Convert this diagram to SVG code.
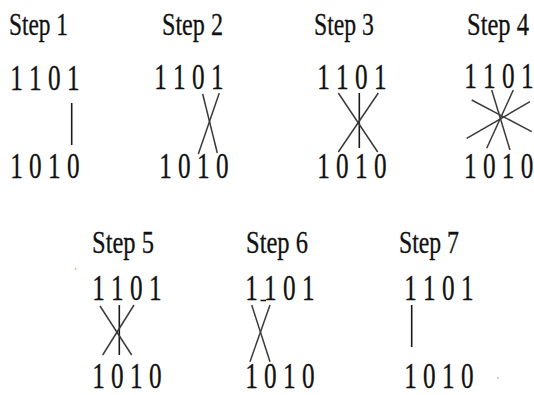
<svg xmlns="http://www.w3.org/2000/svg" width="534" height="395" viewBox="0 0 534 395">
<style>
.lbl{font-family:"Liberation Serif","Times New Roman",serif;font-size:32px;fill:#111;stroke:#111;stroke-width:0.3}
.dig{font-family:"Liberation Serif","Times New Roman",serif;font-size:36px;fill:#111;stroke:#111;stroke-width:0.35}
.ln{stroke:#3a3a3a;stroke-width:1.5;fill:none;stroke-linecap:butt}
.vl{stroke:#1a1a1a;stroke-width:1.6;fill:none}
</style>
<rect width="534" height="395" fill="#fff"/>
<g id="step1">
<text class="lbl" transform="translate(9,35) scale(0.73,1)">Step 1</text>
<text class="dig" transform="translate(10.2,90) scale(0.7,1)">1 1 0 1</text>
<text class="dig" transform="translate(10.2,178) scale(0.7,1)">1 0 1 0</text>
</g>
<g id="step2">
<text class="lbl" transform="translate(162,35) scale(0.754,1)">Step 2</text>
<text class="dig" transform="translate(154.2,89) scale(0.7,1)">1 1 0 1</text>
<text class="dig" transform="translate(159.2,178) scale(0.7,1)">1 0 1 0</text>
</g>
<g id="step3">
<text class="lbl" transform="translate(314,35) scale(0.742,1)">Step 3</text>
<text class="dig" transform="translate(317.2,89) scale(0.7,1)">1 1 0 1</text>
<text class="dig" transform="translate(317.2,178) scale(0.7,1)">1 0 1 0</text>
</g>
<g id="step4">
<text class="lbl" transform="translate(467,35) scale(0.766,1)">Step 4</text>
<text class="dig" transform="translate(464.2,88) scale(0.7,1)">1 1 0 1</text>
<text class="dig" transform="translate(464,178) scale(0.7,1)">1 0 1 0</text>
</g>
<g id="step5">
<text class="lbl" transform="translate(92,253) scale(0.766,1)">Step 5</text>
<text class="dig" transform="translate(92.2,300) scale(0.7,1)">1 1 0 1</text>
<text class="dig" transform="translate(92.2,388) scale(0.7,1)">1 0 1 0</text>
</g>
<g id="step6">
<text class="lbl" transform="translate(246,253) scale(0.766,1)">Step 6</text>
<text class="dig" transform="translate(245.2,300) scale(0.7,1)">1 1 0 1</text>
<text class="dig" transform="translate(245.2,388) scale(0.7,1)">1 0 1 0</text>
</g>
<g id="step7">
<text class="lbl" transform="translate(399,253) scale(0.742,1)">Step 7</text>
<text class="dig" transform="translate(404.2,300) scale(0.7,1)">1 1 0 1</text>
<text class="dig" transform="translate(404.2,388) scale(0.7,1)">1 0 1 0</text>
</g>
<g id="connectors">
<line class="vl" x1="71.7" y1="103" x2="71.7" y2="145"/>
<line class="ln" x1="202.7" y1="94" x2="217.3" y2="153"/>
<line class="ln" x1="219.3" y1="93" x2="198.3" y2="154"/>
<line class="vl" x1="359.3" y1="93" x2="359.3" y2="148"/>
<line class="ln" x1="338.3" y1="93" x2="377.7" y2="152"/>
<line class="ln" x1="378.3" y1="93" x2="338.3" y2="152"/>
<line class="ln" x1="491.7" y1="90" x2="510" y2="150"/>
<line class="ln" x1="513.3" y1="90" x2="486.7" y2="148.3"/>
<line class="ln" x1="471.7" y1="100" x2="531.7" y2="131.7"/>
<line class="ln" x1="466.7" y1="138.3" x2="530" y2="101.7"/>
<line class="vl" x1="119.3" y1="305" x2="119.3" y2="355"/>
<line class="ln" x1="100" y1="306" x2="131.7" y2="355"/>
<line class="ln" x1="134" y1="305" x2="102.7" y2="355"/>
<line class="ln" x1="251.7" y1="305" x2="270" y2="361.7"/>
<line class="ln" x1="270" y1="305" x2="250" y2="361.7"/>
<line class="vl" x1="260.5" y1="300.5" x2="266" y2="300.5" stroke-width="1.2"/>
<line class="vl" x1="411.7" y1="305" x2="411.7" y2="347"/>
</g>
<circle cx="75.7" cy="269" r="0.8" fill="#e08a3c"/>
<circle cx="498" cy="378" r="0.8" fill="#8a9ab0"/>
</svg>
